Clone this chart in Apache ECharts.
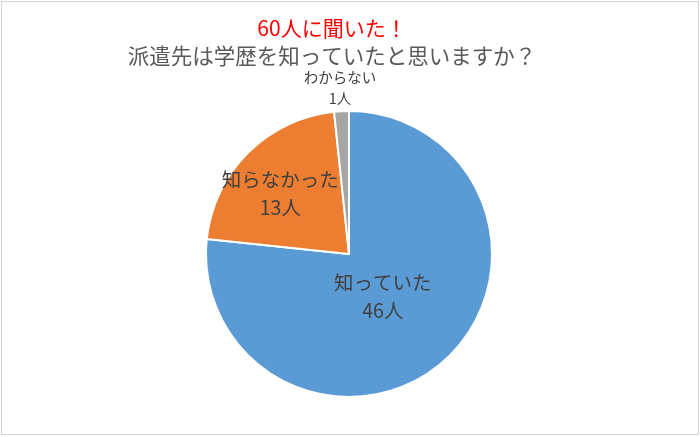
<!DOCTYPE html>
<html><head><meta charset="utf-8">
<script src="https://cdn.jsdelivr.net/npm/echarts@6/dist/echarts.min.js"></script>
<style>
html,body{margin:0;padding:0;background:#fff;}
#c{position:absolute;left:0;top:0;width:700px;height:437px;}
#b{position:absolute;left:1px;top:1px;width:696px;height:432px;border:1px solid #d4d4d4;pointer-events:none;}
</style></head><body>
<div id="c"></div><div id="b"></div>
<script>
const titleText = '60人に聞いた！';
const subtitleText = '派遣先は学歴を知っていたと思いますか？';
const categories = ['知っていた', '知らなかった', 'わからない'];
const values = [46, 13, 1];
const unit = '人';
const colors = ['#5B9BD5', '#ED7D31', '#A5A5A5'];

const font = '"Noto Sans CJK JP", "Noto Sans", sans-serif';
const chart = echarts.init(document.getElementById('c'));
const labelTweaks = [
  { offset: [-16, -13] },
  { offset: [-16, -8] },
  { offset: [-5, -92], fontSize: 14.5, lineHeight: 21 }
];
const data = categories.map((n, i) => ({
  name: n, value: values[i], itemStyle: { color: colors[i] }, label: labelTweaks[i]
}));
chart.setOption({
  animation: false,
  title: [
    { text: titleText, left: 327, top: 13, textAlign: 'center',
      textStyle: { color: '#FF0000', fontSize: 21, fontWeight: 'normal', fontFamily: font } },
    { text: subtitleText, left: 327, top: 40, textAlign: 'center',
      textStyle: { color: '#595959', fontSize: 21.5, fontWeight: 'normal', fontFamily: font } }
  ],
  series: [{
    type: 'pie',
    center: [349, 254],
    radius: 143,
    startAngle: 90,
    clockwise: true,
    itemStyle: { borderColor: '#fff', borderWidth: 2 },
    label: {
      show: true, position: 'inside',
      formatter: p => p.name + '\n' + p.value + unit,
      color: '#404040', fontSize: 19.5, lineHeight: 28, fontFamily: font
    },
    labelLine: { show: false },
    data: data
  }]
});
</script></body></html>
